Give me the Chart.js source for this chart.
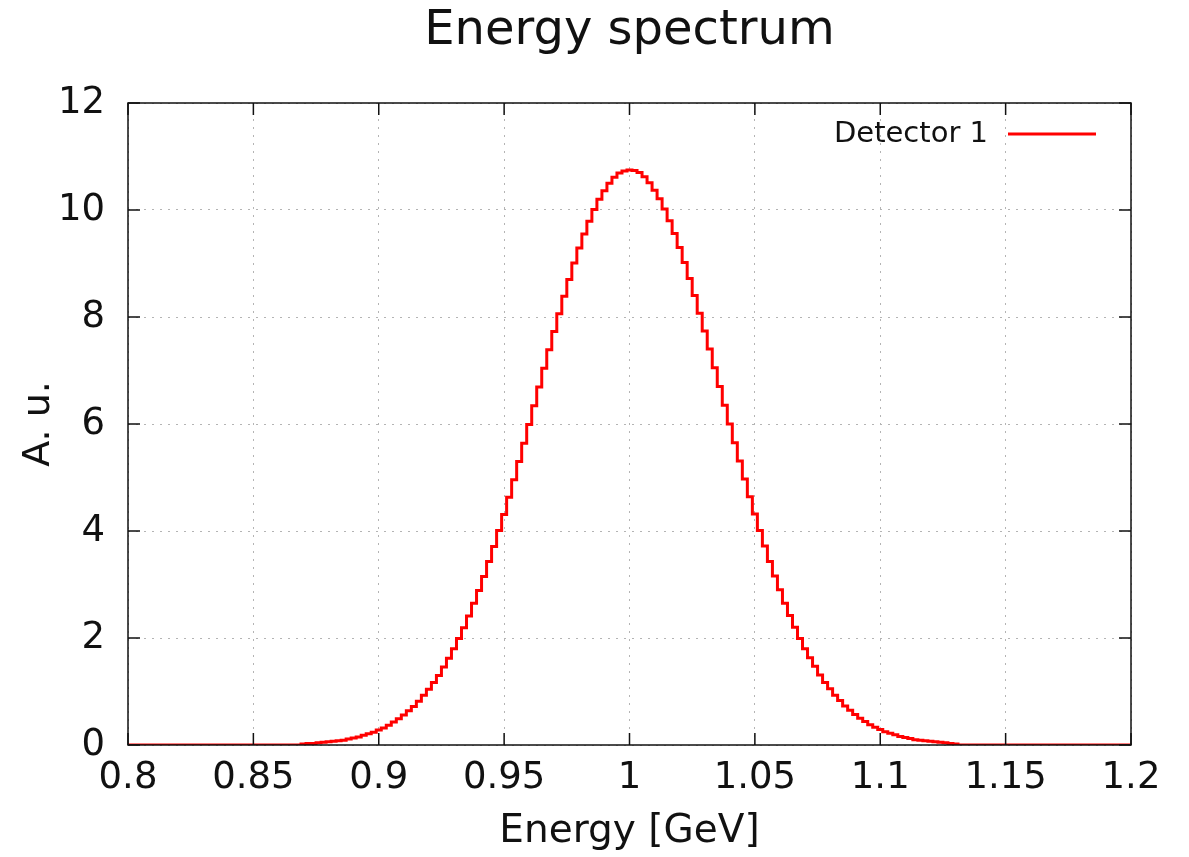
<!DOCTYPE html>
<html>
<head>
<meta charset="utf-8">
<title>Energy spectrum</title>
<script src="https://cdn.jsdelivr.net/npm/chart.js@4/dist/chart.umd.min.js"></script>
<style>
  body { margin: 0; background: #fff; }
  #wrap { width: 1189px; height: 857px; }
</style>
</head>
<body>
<div id="wrap"><canvas id="spectrum" width="1189" height="857"></canvas></div>
<script>
// histogram: bins of 2 MeV starting at 0.8 GeV
const binStart = 0.8;
const binWidth = 0.002;
const seriesLabel = 'Detector 1';
const chartTitle = 'Energy spectrum';

const counts = [
  // 0.800 - 0.868
  0, 0, 0, 0, 0, 0, 0, 0, 0, 0, 0, 0, 0, 0, 0, 0, 0, 0, 0, 0,
  0, 0, 0, 0, 0, 0, 0, 0, 0, 0, 0, 0, 0, 0, 0,
  // 0.870 - 1.000
  0.02, 0.03, 0.03, 0.04, 0.05, 0.06, 0.07, 0.08, 0.09, 0.11,
  0.13, 0.15, 0.18, 0.21, 0.24, 0.28, 0.32, 0.37, 0.43, 0.49,
  0.56, 0.64, 0.72, 0.82, 0.93, 1.04, 1.17, 1.30, 1.46, 1.62,
  1.80, 1.99, 2.19, 2.41, 2.65, 2.89, 3.15, 3.43, 3.71, 4.01,
  4.31, 4.63, 4.96, 5.30, 5.64, 5.99, 6.34, 6.69, 7.04, 7.39,
  7.73, 8.06, 8.39, 8.70, 9.01, 9.29, 9.55, 9.79, 10.01, 10.20,
  10.36, 10.50, 10.61, 10.69, 10.73, 10.75,
  // 1.002 - 1.130
  10.74, 10.70, 10.62, 10.51, 10.37, 10.21, 10.02, 9.80, 9.56, 9.30,
  9.02, 8.72, 8.40, 8.07, 7.74, 7.40, 7.05, 6.70, 6.35, 6.00,
  5.65, 5.31, 4.97, 4.64, 4.32, 4.01, 3.72, 3.43, 3.16, 2.90,
  2.65, 2.42, 2.20, 1.99, 1.80, 1.63, 1.47, 1.31, 1.17, 1.05,
  0.93, 0.83, 0.73, 0.65, 0.57, 0.50, 0.44, 0.38, 0.33, 0.29,
  0.25, 0.22, 0.19, 0.16, 0.14, 0.12, 0.10, 0.09, 0.08, 0.07,
  0.06, 0.05, 0.04, 0.03, 0.02,
  // 1.132 - 1.200
  0, 0, 0, 0, 0, 0, 0, 0, 0, 0, 0, 0, 0, 0, 0, 0, 0, 0, 0, 0,
  0, 0, 0, 0, 0, 0, 0, 0, 0, 0, 0, 0, 0, 0, 0
];

const xTicks = [0.8, 0.85, 0.9, 0.95, 1, 1.05, 1.1, 1.15, 1.2];
const yTicks = [0, 2, 4, 6, 8, 10, 12];

const points = counts.map((c, i) => ({ x: +(binStart + i * binWidth).toFixed(3), y: c }));

Chart.defaults.font.family = "'DejaVu Sans', sans-serif";
Chart.defaults.color = '#111';

// gnuplot-like frame, inward ticks on all four sides, title over the plot area,
// and legend drawn text first then line sample
const frameTicks = {
  id: 'frameTicks',
  afterDatasetsDraw(chart) {
    const { ctx, chartArea: a, scales: { x, y } } = chart;
    ctx.save();
    ctx.strokeStyle = '#111';
    ctx.lineWidth = 1.5;
    ctx.strokeRect(a.left, a.top, a.right - a.left, a.bottom - a.top);

    ctx.beginPath();
    x.ticks.forEach(t => {
      const px = x.getPixelForValue(t.value);
      ctx.moveTo(px, a.bottom); ctx.lineTo(px, a.bottom - 12);
      ctx.moveTo(px, a.top); ctx.lineTo(px, a.top + 12);
    });
    y.ticks.forEach(t => {
      const py = y.getPixelForValue(t.value);
      ctx.moveTo(a.left, py); ctx.lineTo(a.left + 12, py);
      ctx.moveTo(a.right, py); ctx.lineTo(a.right - 12, py);
    });
    ctx.stroke();

    ctx.fillStyle = '#111';
    ctx.textAlign = 'center';
    ctx.textBaseline = 'middle';
    ctx.font = "48px 'DejaVu Sans', sans-serif";
    ctx.fillText(chartTitle, (a.left + a.right) / 2, a.top - 71);

    const ds = chart.data.datasets[0];
    const ly = a.top + 31;
    ctx.font = "29px 'DejaVu Sans', sans-serif";
    ctx.textAlign = 'right';
    ctx.fillText(ds.label, a.right - 143, ly);
    ctx.strokeStyle = ds.borderColor;
    ctx.lineWidth = ds.borderWidth;
    ctx.beginPath();
    ctx.moveTo(a.right - 123, ly);
    ctx.lineTo(a.right - 35, ly);
    ctx.stroke();
    ctx.restore();
  }
};

new Chart(document.getElementById('spectrum'), {
  type: 'line',
  data: {
    datasets: [{
      label: seriesLabel,
      data: points,
      borderColor: '#ff0000',
      borderWidth: 3,
      pointRadius: 0,
      stepped: 'middle',
      fill: false
    }]
  },
  options: {
    responsive: false,
    animation: false,
    layout: { padding: { left: 0, right: 58, top: 103, bottom: 0 } },
    plugins: {
      legend: { display: false },
      tooltip: { enabled: false },
      title: { display: false }
    },
    scales: {
      x: {
        type: 'linear',
        min: 0.8,
        max: 1.2,
        afterBuildTicks: scale => { scale.ticks = xTicks.map(v => ({ value: v })); },
        afterFit: scale => { scale.height = 112; },
        ticks: {
          font: { size: 37 },
          padding: 11,
          maxRotation: 0,
          autoSkip: false,
          callback: v => String(Number(v.toFixed(2)))
        },
        grid: { color: '#b4b4b4', lineWidth: 1, drawTicks: false },
        border: { display: false, dash: [2, 6] },
        title: {
          display: true,
          text: 'Energy [GeV]',
          font: { size: 39 },
          padding: { top: 0, bottom: 2 }
        }
      },
      y: {
        min: 0,
        max: 12,
        afterBuildTicks: scale => { scale.ticks = yTicks.map(v => ({ value: v })); },
        afterFit: scale => { scale.width = 128; },
        ticks: { font: { size: 37 }, padding: 23 },
        grid: { color: '#b4b4b4', lineWidth: 1, drawTicks: false },
        border: { display: false, dash: [2, 6] },
        title: {
          display: true,
          text: 'A. u.',
          font: { size: 38 },
          padding: { top: 16, bottom: 0 }
        }
      }
    }
  },
  plugins: [frameTicks]
});
</script>
</body>
</html>
